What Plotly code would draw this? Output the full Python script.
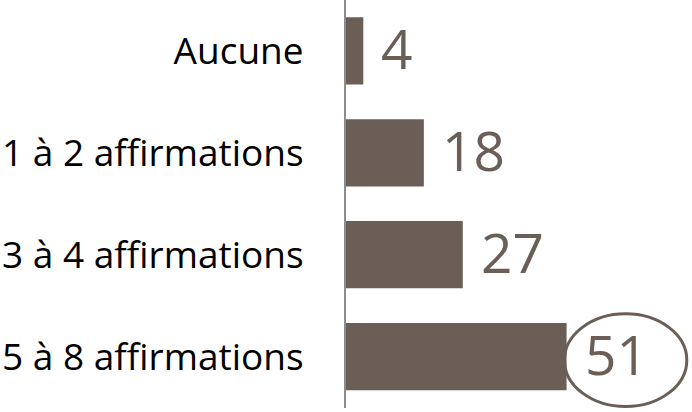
import plotly.graph_objects as go

categories = ["Aucune", "1 à 2 affirmations", "3 à 4 affirmations", "5 à 8 affirmations"]
values = [4, 18, 27, 51]
highlight = "5 à 8 affirmations"

bar_color = "#6b5e56"

fig = go.Figure()

fig.add_trace(go.Bar(
    x=values,
    y=categories,
    orientation="h",
    marker=dict(color=bar_color, line=dict(width=0)),
    width=0.66,
    hoverinfo="skip",
))

# value labels, set off a bit from the bar ends
for cat, val in zip(categories, values):
    fig.add_annotation(
        x=val, y=cat, text=str(val),
        xanchor="left", yanchor="middle",
        xshift=16, yshift=3,
        showarrow=False,
        font=dict(family="Open Sans", size=55, color=bar_color),
    )

# ring around the highlighted value
idx = categories.index(highlight)
hv = values[idx]
fig.add_shape(
    type="circle", xref="x", yref="y",
    x0=hv - 0.5, x1=hv + 27.8,
    y0=idx - 0.42, y1=idx + 0.49,
    line=dict(color=bar_color, width=3),
)

fig.update_layout(
    width=692,
    height=412,
    margin=dict(l=346, r=0, t=0, b=4, pad=0),
    paper_bgcolor="white",
    plot_bgcolor="white",
    showlegend=False,
    font=dict(family="Open Sans", color="black"),
)

fig.update_xaxes(
    range=[0, 80],
    visible=False,
    showgrid=False,
    zeroline=False,
    automargin=False,
)

fig.update_yaxes(
    categoryorder="array",
    categoryarray=categories,
    autorange="reversed",
    showline=True,
    linecolor="#8c8c8c",
    linewidth=2,
    showgrid=False,
    ticks="",
    automargin=False,
    ticklabelstandoff=33,
    tickfont=dict(family="Open Sans", size=37, color="black"),
)

# page has a default 8px body margin; drop it so the chart fills the window
fig.write_html(
    "out.html",
    config={"displayModeBar": False},
    post_script="document.body.style.margin='0';",
)
